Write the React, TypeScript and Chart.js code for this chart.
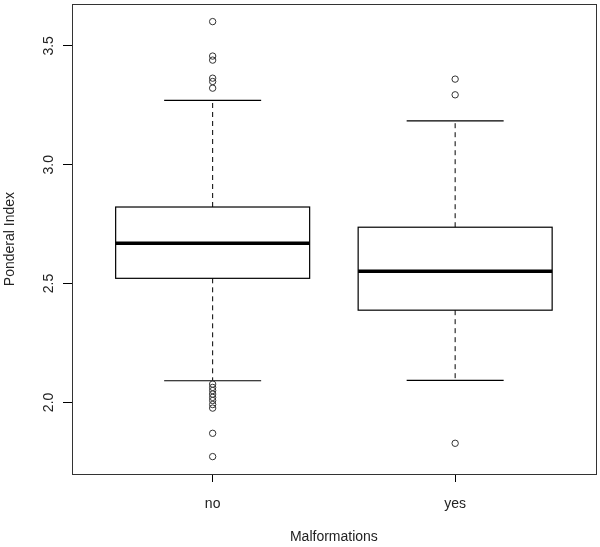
import React, { useEffect, useRef } from "react";
import { Chart, registerables } from "chart.js";

Chart.register(...registerables);

const categories = ["no", "yes"];
const whiskerLow = [2.091, 2.093];
const q1 = [2.522, 2.388];
const medians = [2.67, 2.552];
const q3 = [2.822, 2.737];
const whiskerHigh = [3.271, 3.184];
const outliersNo = [3.602, 3.457, 3.44, 3.364, 3.35, 3.322, 2.077, 2.063, 2.05, 2.035, 2.021, 2.008, 1.991, 1.976, 1.87, 1.772];
const outliersYes = [3.36, 3.294, 1.828];
const yTickValues = [2.0, 2.5, 3.0, 3.5];
const xTitle = "Malformations";
const yTitle = "Ponderal Index";

const allValues = [...whiskerLow, ...whiskerHigh, ...outliersNo, ...outliersYes];
const dataMin = Math.min(...allValues);
const dataMax = Math.max(...allValues);
const span = dataMax - dataMin;

const FONT = "'Liberation Sans', Arial, sans-serif";

const boxPlugin = {
  id: "boxPlugin",
  beforeDatasetsDraw(chart: any) {
    const { ctx, scales } = chart;
    const xs = scales.x;
    const ys = scales.y;
    ctx.save();
    ctx.strokeStyle = "#000";
    categories.forEach((_, i) => {
      const c = i + 1;
      const xl = xs.getPixelForValue(c - 0.4);
      const xr = xs.getPixelForValue(c + 0.4);
      const xc = xs.getPixelForValue(c);
      const sl = xs.getPixelForValue(c - 0.2);
      const sr = xs.getPixelForValue(c + 0.2);
      const yq1 = ys.getPixelForValue(q1[i]);
      const yq3 = ys.getPixelForValue(q3[i]);
      const ymed = ys.getPixelForValue(medians[i]);
      const ylo = ys.getPixelForValue(whiskerLow[i]);
      const yhi = ys.getPixelForValue(whiskerHigh[i]);
      // whiskers (dashed)
      ctx.lineWidth = 1;
      ctx.setLineDash([5, 4]);
      ctx.beginPath();
      ctx.moveTo(xc, yq3);
      ctx.lineTo(xc, yhi);
      ctx.moveTo(xc, yq1);
      ctx.lineTo(xc, ylo);
      ctx.stroke();
      ctx.setLineDash([]);
      // staples
      ctx.lineWidth = 1.2;
      ctx.beginPath();
      ctx.moveTo(sl, yhi);
      ctx.lineTo(sr, yhi);
      ctx.moveTo(sl, ylo);
      ctx.lineTo(sr, ylo);
      ctx.stroke();
      // box
      ctx.fillStyle = "#fff";
      ctx.fillRect(xl, yq3, xr - xl, yq1 - yq3);
      ctx.lineWidth = 1.2;
      ctx.strokeRect(xl, yq3, xr - xl, yq1 - yq3);
      // median
      ctx.lineWidth = 3.5;
      ctx.beginPath();
      ctx.moveTo(xl, ymed);
      ctx.lineTo(xr, ymed);
      ctx.stroke();
    });
    ctx.restore();
  },
  afterDraw(chart: any) {
    const { ctx, chartArea, scales } = chart;
    ctx.save();
    ctx.strokeStyle = "#333";
    ctx.lineWidth = 1;
    ctx.strokeRect(
      Math.round(chartArea.left) + 0.5,
      Math.round(chartArea.top) + 0.5,
      Math.round(chartArea.right - chartArea.left),
      Math.round(chartArea.bottom - chartArea.top)
    );
    // rotated y tick labels
    const ys = scales.y;
    ctx.fillStyle = "#222";
    ctx.font = `14px ${FONT}`;
    ctx.textAlign = "center";
    ctx.textBaseline = "alphabetic";
    ys.ticks.forEach((t: any) => {
      const y = ys.getPixelForValue(t.value);
      ctx.save();
      ctx.translate(53, y);
      ctx.rotate(-Math.PI / 2);
      ctx.fillText(t.value.toFixed(1), 0, 0);
      ctx.restore();
    });
    ctx.restore();
  },
};

export default function App() {
  const ref = useRef<HTMLCanvasElement | null>(null);
  useEffect(() => {
    if (!ref.current) return;
    const chart = new Chart(ref.current, {
      type: "scatter",
      data: {
        datasets: [
          {
            label: "no",
            data: outliersNo.map((v) => ({ x: 1, y: v })),
            pointRadius: 3.2,
            pointBorderWidth: 1,
            borderColor: "#333",
            backgroundColor: "rgba(0,0,0,0)",
            pointHoverRadius: 3.2,
          },
          {
            label: "yes",
            data: outliersYes.map((v) => ({ x: 2, y: v })),
            pointRadius: 3.2,
            pointBorderWidth: 1,
            borderColor: "#333",
            backgroundColor: "rgba(0,0,0,0)",
            pointHoverRadius: 3.2,
          },
        ],
      },
      options: {
        animation: false,
        responsive: false,
        events: [],
        layout: { padding: { top: 3, right: 2, left: 0, bottom: 0 } },
        plugins: {
          legend: { display: false },
          tooltip: { enabled: false },
        },
        scales: {
          x: {
            type: "linear",
            position: "bottom",
            min: 0.5 - 0.04 * 2,
            max: 2.5 + 0.04 * 2,
            afterBuildTicks: (scale: any) => {
              scale.ticks = categories.map((_, i) => ({ value: i + 1 }));
            },
            afterFit: (scale: any) => {
              scale.height = 73;
            },
            ticks: {
              callback: (v: any) => categories[Math.round(Number(v)) - 1] ?? "",
              font: { size: 14, family: FONT },
              color: "#222",
              padding: 14,
              autoSkip: false,
              maxRotation: 0,
            },
            grid: {
              drawOnChartArea: false,
              drawTicks: true,
              tickLength: 8,
              color: "#000",
              lineWidth: 1,
            },
            border: { display: false },
            title: {
              display: true,
              text: xTitle,
              font: { size: 14, family: FONT },
              color: "#222",
              padding: { top: 0, bottom: 1 },
            },
          },
          y: {
            type: "linear",
            position: "left",
            min: dataMin - 0.04 * span,
            max: dataMax + 0.04 * span,
            afterBuildTicks: (scale: any) => {
              scale.ticks = yTickValues.map((v) => ({ value: v }));
            },
            afterFit: (scale: any) => {
              scale.width = 72;
            },
            ticks: { display: false },
            grid: {
              drawOnChartArea: false,
              drawTicks: true,
              tickLength: 9,
              color: "#000",
              lineWidth: 1,
            },
            border: { display: false },
            title: {
              display: true,
              text: yTitle,
              font: { size: 14, family: FONT },
              color: "#222",
              padding: { top: 2, bottom: 0 },
            },
          },
        },
      },
      plugins: [boxPlugin],
    });
    return () => chart.destroy();
  }, []);
  return (
    <div style={{ position: "fixed", left: 0, top: 0, width: 600, height: 547, background: "#fff" }}>
      <canvas ref={ref} width={600} height={547} style={{ width: 600, height: 547 }} />
    </div>
  );
}
